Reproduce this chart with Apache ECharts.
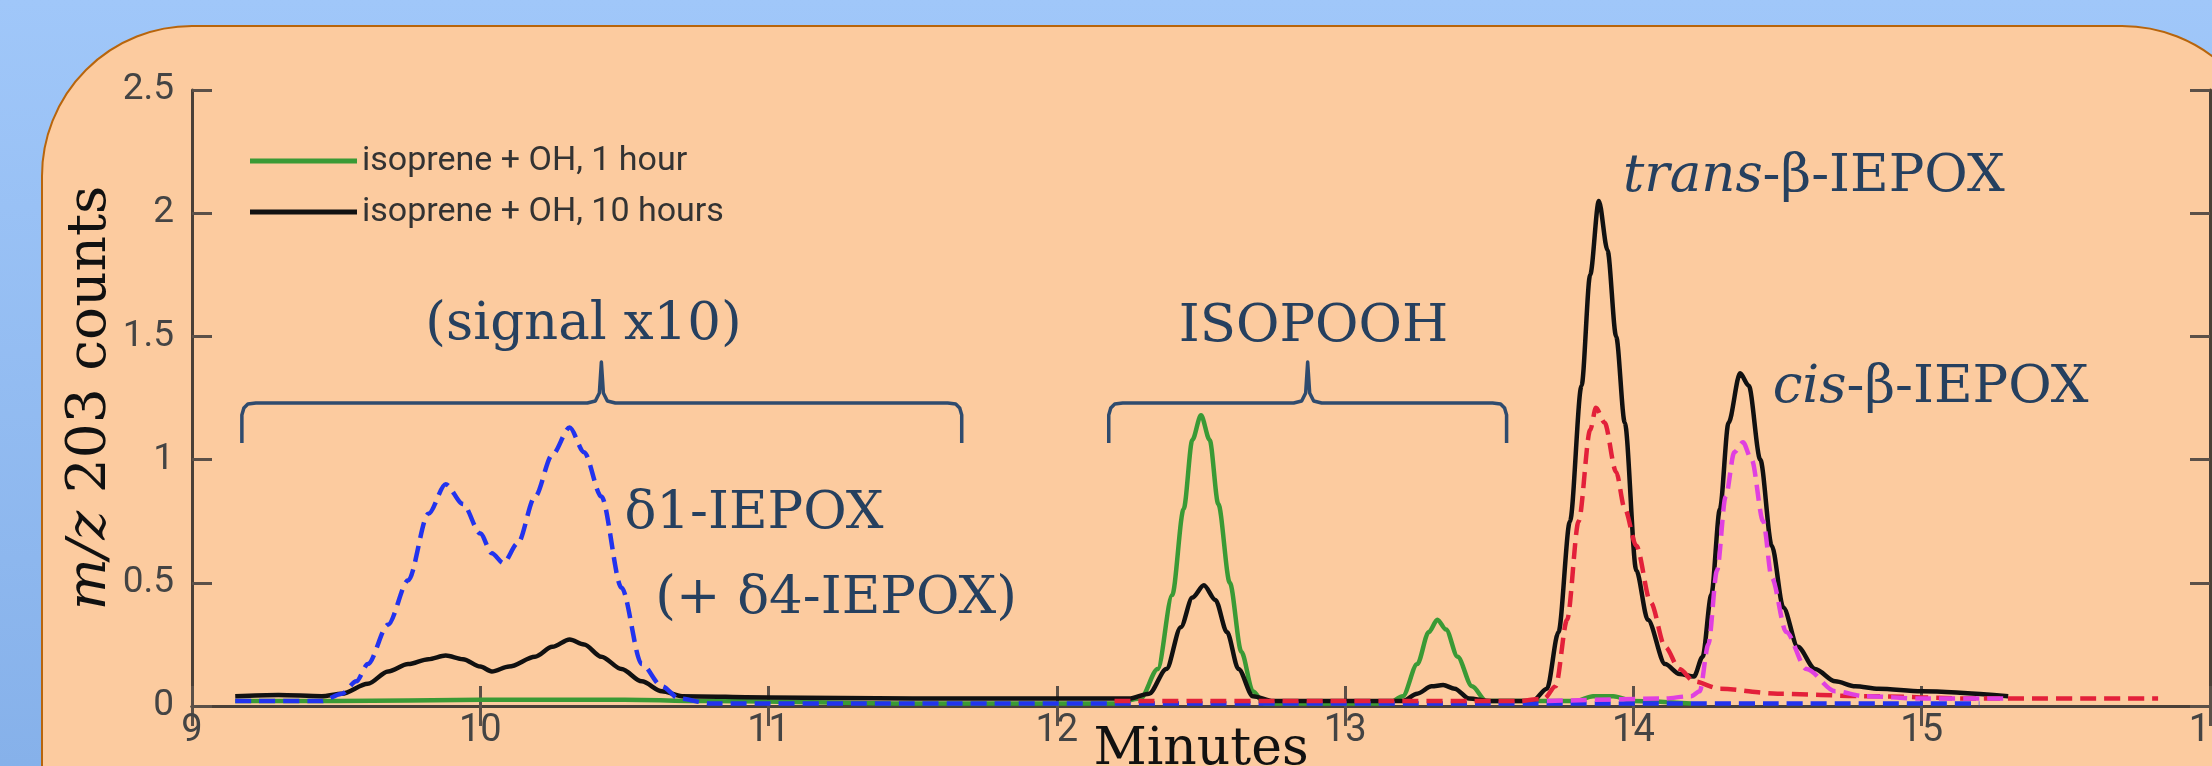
<!DOCTYPE html>
<html>
<head>
<meta charset="utf-8">
<script src="https://cdn.jsdelivr.net/npm/echarts@6/dist/echarts.min.js"></script>
<style>
html, body { margin: 0; padding: 0; overflow: hidden; }
#main { width: 2212px; height: 766px; }
</style>
</head>
<body>
<div id="main"></div>
<script>
var legendNames = ['isoprene + OH, 1 hour', 'isoprene + OH, 10 hours'];

// [minutes, m/z 203 counts]
var oneHour = [
    [9.15,0.02],[9.5,0.02],[10.0,0.025],[10.5,0.025],[10.8,0.02],[11.5,0.01],[12.2,0.01],
    [12.29,0.03],[12.35,0.15],[12.40,0.45],[12.44,0.8],[12.47,1.08],[12.50,1.18],[12.53,1.08],
    [12.56,0.82],[12.60,0.5],[12.64,0.22],[12.68,0.06],[12.72,0.01],[13.15,0.01],[13.20,0.04],
    [13.25,0.17],[13.29,0.3],[13.32,0.35],[13.35,0.31],[13.39,0.2],[13.44,0.08],[13.49,0.02],
    [13.80,0.02],[13.86,0.04],[13.93,0.04],[14.0,0.02],[14.2,0.01]
];
var tenHours = [
    [9.15,0.04],[9.3,0.045],[9.45,0.04],[9.52,0.05],[9.61,0.09],[9.68,0.14],[9.75,0.17],
    [9.82,0.19],[9.88,0.205],[9.94,0.19],[10.0,0.16],[10.04,0.14],[10.1,0.16],[10.19,0.2],
    [10.25,0.24],[10.31,0.27],[10.36,0.25],[10.42,0.2],[10.49,0.15],[10.56,0.1],[10.63,0.06],
    [10.7,0.04],[11.0,0.035],[11.5,0.03],[12.0,0.03],[12.25,0.03],[12.32,0.05],[12.38,0.15],
    [12.43,0.32],[12.47,0.44],[12.51,0.49],[12.55,0.43],[12.59,0.3],[12.63,0.15],[12.68,0.04],
    [12.75,0.02],[13.2,0.02],[13.25,0.05],[13.3,0.08],[13.34,0.085],[13.38,0.07],[13.43,0.03],
    [13.5,0.02],[13.65,0.02],[13.7,0.07],[13.74,0.3],[13.78,0.75],[13.82,1.3],[13.85,1.75],
    [13.88,2.05],[13.91,1.85],[13.94,1.5],[13.97,1.15],[14.01,0.55],[14.05,0.35],[14.11,0.17],
    [14.16,0.13],[14.21,0.12],[14.24,0.2],[14.27,0.45],[14.30,0.8],[14.33,1.15],[14.37,1.35],
    [14.40,1.3],[14.44,1.0],[14.48,0.65],[14.52,0.4],[14.57,0.24],[14.63,0.15],[14.7,0.1],
    [14.77,0.08],[14.85,0.07],[15.0,0.06],[15.3,0.04]
];
var delta1x10 = [
    [9.15,0.02],[9.45,0.02],[9.52,0.05],[9.57,0.1],[9.61,0.17],[9.68,0.33],[9.75,0.51],
    [9.82,0.78],[9.88,0.9],[9.94,0.82],[10.0,0.7],[10.04,0.62],[10.08,0.58],[10.13,0.66],
    [10.19,0.85],[10.25,1.02],[10.31,1.13],[10.36,1.03],[10.42,0.85],[10.49,0.48],[10.56,0.17],
    [10.63,0.08],[10.69,0.03],[10.8,0.01],[11.5,0.01],[12.5,0.01],[13.5,0.01],[14.5,0.01],[15.2,0.01]
];
var transBeta = [
    [12.2,0.02],[13.0,0.02],[13.6,0.02],[13.69,0.03],[13.73,0.08],[13.77,0.35],[13.81,0.75],
    [13.85,1.12],[13.87,1.21],[13.9,1.15],[13.94,0.95],[13.97,0.8],[14.01,0.65],[14.06,0.42],
    [14.11,0.24],[14.16,0.15],[14.21,0.1],[14.3,0.07],[14.5,0.05],[14.8,0.04],[15.2,0.03],[15.82,0.03]
];
var cisBeta = [
    [13.7,0.02],[14.1,0.03],[14.2,0.04],[14.23,0.06],[14.26,0.25],[14.29,0.55],[14.32,0.85],
    [14.35,1.03],[14.38,1.07],[14.41,1.0],[14.45,0.75],[14.48,0.52],[14.53,0.3],[14.6,0.15],
    [14.7,0.06],[14.8,0.04],[15.0,0.03],[15.3,0.03]
];

// annotations, in data units
var notes = [
    {text: '(signal x10)', at: [10.358, 1.544], align: 'center'},
    {text: 'ISOPOOH', at: [12.89, 1.536], align: 'center'},
    {text: '{i|trans}-β-IEPOX', at: [13.964, 2.145], align: 'left'},
    {text: '{i|cis}-β-IEPOX', at: [14.483, 1.289], align: 'left'},
    {text: 'δ1-IEPOX', at: [10.50, 0.779], align: 'left'},
    {text: '(+ δ4-IEPOX)', at: [10.607, 0.434], align: 'left'}
];
var braces = [
    {from: 9.173, to: 11.67, mid: 10.42},
    {from: 12.18, to: 13.56, mid: 12.87}
];
var braceLevels = {ends: 1.067, bar: 1.23, tip: 1.396};

var serif = '"DejaVu Serif", "Liberation Serif", serif';
var sans = 'Roboto, "Liberation Sans", sans-serif';
var noteColor = '#26405F';
var frame = '#4a4038';

var myChart = echarts.init(document.getElementById('main'));

function frameAxis(extra) {
    var base = {
        type: 'value',
        nameMoveOverlap: false,
        axisLine: {show: true, lineStyle: {color: frame, width: 3}},
        axisTick: {show: true, inside: true, length: 20, lineStyle: {color: '#5b5048', width: 3}},
        splitLine: {show: false}
    };
    return Object.assign(base, extra);
}

function line(name, data, color, dashed) {
    return {
        name: name,
        type: 'line',
        data: data,
        symbol: 'none',
        smooth: 0.3,
        smoothMonotone: 'x',
        lineStyle: {color: color, width: 4.5, type: dashed ? [16, 8] : 'solid'},
        itemStyle: {color: color}
    };
}

var option = {
    backgroundColor: {
        type: 'linear', x: 0, y: 0, x2: 0, y2: 1,
        colorStops: [{offset: 0, color: '#A0C7F9'}, {offset: 1, color: '#86B1EA'}]
    },
    animation: false,
    grid: {left: 192, right: 2, top: 90, bottom: 60, containLabel: false, outerBoundsMode: 'none'},
    legend: {
        data: legendNames,
        orient: 'vertical',
        left: 245,
        top: 139,
        icon: 'rect',
        itemWidth: 107,
        itemHeight: 5,
        itemGap: 17,
        textStyle: {fontFamily: sans, fontSize: 34, color: '#333'}
    },
    xAxis: [
        frameAxis({
            min: 9, max: 16, interval: 1, position: 'bottom',
            name: 'Minutes', nameLocation: 'middle', nameGap: 18,
            nameTextStyle: {fontFamily: serif, fontSize: 52, color: '#111', verticalAlign: 'top'},
            axisLabel: {fontFamily: sans, fontSize: 38, color: '#444', margin: 6}
        }),
        frameAxis({min: 9, max: 16, interval: 1, position: 'top', axisLabel: {show: false}})
    ],
    yAxis: [
        frameAxis({
            min: 0, max: 2.5, interval: 0.5, position: 'left',
            name: '{i|m/z} 203 counts', nameLocation: 'middle', nameRotate: 90, nameGap: 74,
            nameTextStyle: {
                fontFamily: serif, fontSize: 55, color: '#111',
                rich: {i: {fontFamily: serif, fontSize: 55, color: '#111', fontStyle: 'italic'}}
            },
            axisLabel: {fontFamily: sans, fontSize: 37, color: '#444', margin: 18}
        }),
        frameAxis({min: 0, max: 2.5, interval: 0.5, position: 'right', axisLabel: {show: false}})
    ],
    series: [
        line(legendNames[0], oneHour, '#3a9a35', false),
        line(legendNames[1], tenHours, '#111111', false),
        line('δ1-IEPOX (signal x10)', delta1x10, '#2233ee', true),
        line('trans-β-IEPOX', transBeta, '#e3203a', true),
        line('cis-β-IEPOX', cisBeta, '#e040e0', true)
    ]
};
myChart.setOption(option);

// panel, braces and labels placed through the axes
function px(x, y) {
    return myChart.convertToPixel({xAxisIndex: 0, yAxisIndex: 0}, [x, y]);
}
var elems = [{
    type: 'rect', z: -10, silent: true,
    shape: {x: 42, y: 26, width: 2230, height: 1000, r: 150},
    style: {fill: '#FCCB9F', stroke: '#B8650C', lineWidth: 2}
}];
braces.forEach(function (b) {
    var l = px(b.from, braceLevels.ends)[0], r = px(b.to, braceLevels.ends)[0], c = px(b.mid, 0)[0];
    var yb = px(b.mid, braceLevels.ends)[1], yh = px(b.mid, braceLevels.bar)[1], yt = px(b.mid, braceLevels.tip)[1];
    elems.push({
        type: 'polyline', z: 40, silent: true,
        shape: {points: [
            [l, yb], [l, yh + 12], [l + 2, yh + 5], [l + 6, yh + 1], [l + 14, yh],
            [c - 14, yh], [c - 6, yh - 2], [c - 2, yh - 10], [c, yt],
            [c + 2, yh - 10], [c + 6, yh - 2], [c + 14, yh],
            [r - 14, yh], [r - 6, yh + 1], [r - 2, yh + 5], [r, yh + 12], [r, yb]
        ]},
        style: {stroke: '#2F4B6E', lineWidth: 3.5, fill: null, lineJoin: 'round'}
    });
});
notes.forEach(function (n) {
    var p = px(n.at[0], n.at[1]);
    elems.push({
        type: 'text', z: 50, silent: true, x: p[0], y: p[1],
        style: {
            text: n.text, fill: noteColor, fontFamily: serif, fontSize: 53,
            align: n.align, verticalAlign: 'middle',
            rich: {i: {fill: noteColor, fontFamily: serif, fontSize: 53, fontStyle: 'italic'}}
        }
    });
});
myChart.setOption({graphic: elems});
</script>
</body>
</html>
